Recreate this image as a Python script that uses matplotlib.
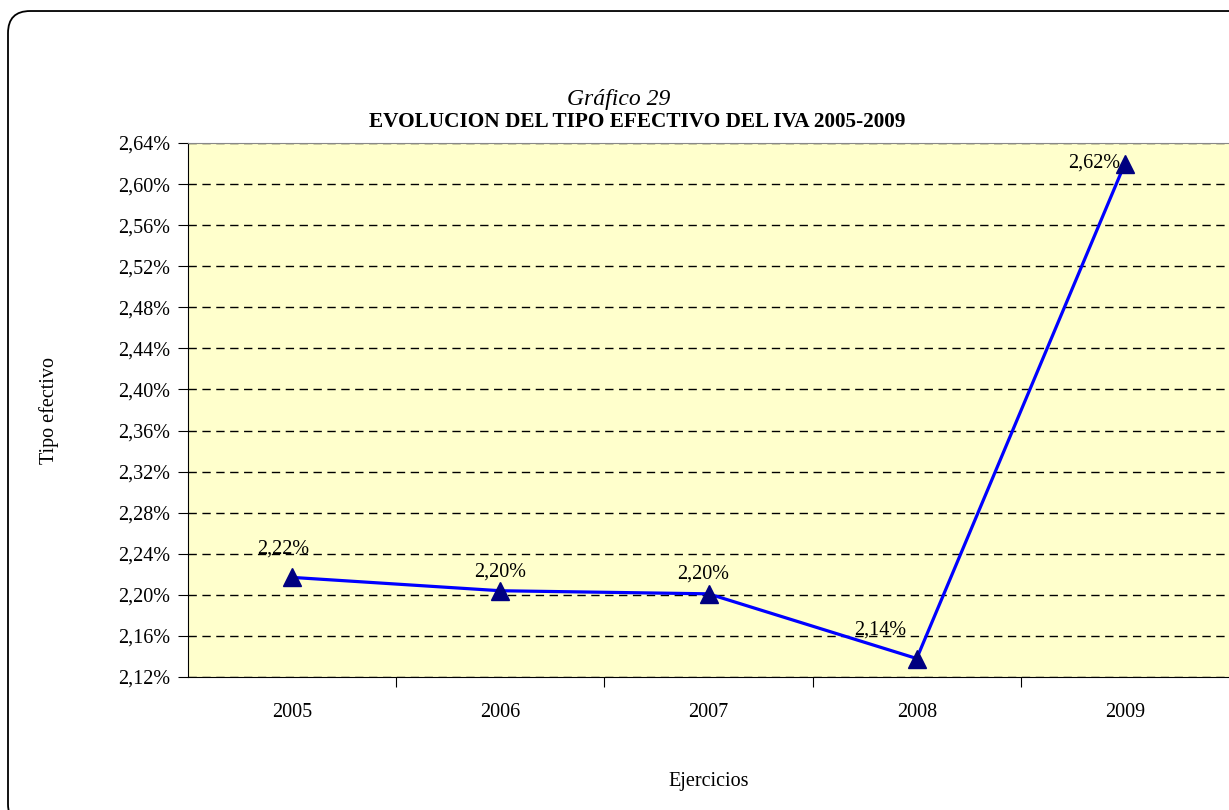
import matplotlib.pyplot as plt
from matplotlib.patches import FancyBboxPatch

# Datos del gráfico
ejercicios = ['2005', '2006', '2007', '2008', '2009']
tipo_efectivo = [2.217, 2.204, 2.201, 2.138, 2.620]

# Desplazamiento de las etiquetas (pixeles)
label_offsets = [(-9, 28), (0, 19), (-5, 20), (-37, 28), (-31, 0)]

plt.rcParams['font.family'] = ['Liberation Serif', 'DejaVu Serif']

fig = plt.figure(figsize=(12.29, 8.10), dpi=100)

# Marco redondeado del gráfico
frame = FancyBboxPatch((8 / 1229, -0.02), 1.2, 1.0064, boxstyle='round,pad=0,rounding_size=0.018',
                       transform=fig.transFigure, facecolor='none', edgecolor='black',
                       linewidth=1.3, zorder=5, mutation_aspect=1229 / 810)
fig.patches.append(frame)

ax = fig.add_axes([188 / 1229, 133 / 810, 1 - 188 / 1229, 534 / 810])
ax.set_facecolor('#FFFFCC')

x = list(range(len(ejercicios)))
ax.plot(x, tipo_efectivo, color='#0000FF', linewidth=2.3, marker='^', markersize=13,
        markerfacecolor='#000080', markeredgecolor='#000080', zorder=3)

for xi, v, off in zip(x, tipo_efectivo, label_offsets):
    txt = ('%.2f%%' % v).replace('.', ',')
    ax.annotate(txt, (xi, v), xytext=off, textcoords='offset pixels',
                ha='center', va='center', fontsize=14.5, zorder=4)

ax.set_xlim(-0.5, len(ejercicios) - 0.5)
ax.set_ylim(2.12, 2.64)
yt = [2.12 + 0.04 * i for i in range(14)]
ax.set_yticks(yt)
ax.set_yticklabels([('%.2f%%' % t).replace('.', ',') for t in yt], fontsize=14.5)
ax.yaxis.grid(True, linestyle=(0, (6, 4)), color='black', linewidth=1.0)
ax.set_axisbelow(True)

ax.set_xticks([i + 0.5 for i in range(len(ejercicios) - 1)])
ax.set_xticklabels([])
ax.set_xticks(x, minor=True)
ax.set_xticklabels(ejercicios, minor=True, fontsize=14.5)
ax.tick_params(axis='x', which='minor', length=0, pad=19)
ax.tick_params(axis='x', which='major', direction='out', length=7)
ax.tick_params(axis='y', direction='out', length=7, pad=6)

ax.spines['right'].set_visible(False)
ax.spines['top'].set_color('#888888')

ax.set_xlabel('Ejercicios', fontsize=14.5, labelpad=36)
ax.set_ylabel('Tipo efectivo', fontsize=14.5, labelpad=42)

fig.text(619 / 1229, 1 - 99 / 810, 'Gráfico 29', ha='center', va='center', fontsize=17, style='italic')
fig.text(637 / 1229, 1 - 122 / 810, 'EVOLUCION DEL TIPO EFECTIVO DEL IVA 2005-2009', ha='center',
         va='center', fontsize=15.3, weight='bold')

fig.savefig('out.png', dpi=100)
